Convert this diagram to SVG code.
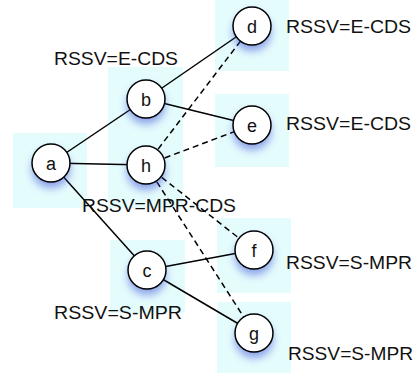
<svg xmlns="http://www.w3.org/2000/svg" width="419" height="373" viewBox="0 0 419 373">
<defs>
<filter id="sh" x="-50%" y="-50%" width="200%" height="220%">
<feGaussianBlur stdDeviation="4"/>
</filter>
</defs>
<style>
.bg{fill:#e5fcfd;stroke:none}
.sh{fill:#3b4fd8;opacity:0.55;filter:url(#sh)}
.nd{fill:#fff;stroke:#000;stroke-width:1.5}
.nl{font-family:"Liberation Sans",Arial,sans-serif;font-size:18px;fill:#111;text-anchor:middle}
.lb{font-family:"Liberation Sans",Arial,sans-serif;font-size:17.5px;fill:#111}
.e{stroke:#000;stroke-width:1.5;fill:none}
.d{stroke-dasharray:6 4}
</style>
<g id="backgrounds">
<rect class="bg" x="13" y="133" width="74" height="75"/>
<rect class="bg" x="108" y="67" width="75" height="75"/>
<rect class="bg" x="108" y="133" width="75" height="75"/>
<rect class="bg" x="110" y="240" width="75" height="73"/>
<rect class="bg" x="215" y="-4" width="74" height="75"/>
<rect class="bg" x="215" y="94" width="74" height="73"/>
<rect class="bg" x="217" y="218" width="74" height="75"/>
<rect class="bg" x="217" y="302" width="74" height="75"/>
</g>
<g id="connectors">
<line class="e" x1="51" y1="163" x2="146" y2="99"/>
<line class="e" x1="51" y1="163" x2="146" y2="165"/>
<line class="e" x1="51" y1="163" x2="147" y2="270"/>
<line class="e" x1="146" y1="99" x2="252" y2="26"/>
<line class="e" x1="146" y1="99" x2="252" y2="125"/>
<line class="e d" x1="146" y1="165" x2="252" y2="26"/>
<line class="e d" x1="146" y1="165" x2="252" y2="125"/>
<line class="e d" x1="146" y1="165" x2="254" y2="250"/>
<line class="e d" x1="146" y1="165" x2="254" y2="333"/>
<line class="e" x1="147" y1="270" x2="254" y2="250"/>
<line class="e" x1="147" y1="270" x2="254" y2="333"/>
</g>
<g id="node-a"><circle class="sh" cx="51" cy="169" r="19"/><circle class="nd" cx="51" cy="163" r="19"/><text class="nl" x="51" y="169.5">a</text></g>
<g id="node-b"><circle class="sh" cx="146" cy="105" r="19"/><circle class="nd" cx="146" cy="99" r="19"/><text class="nl" x="146" y="105.5">b</text></g>
<g id="node-h"><circle class="sh" cx="146" cy="171" r="19"/><circle class="nd" cx="146" cy="165" r="19"/><text class="nl" x="146" y="171.5">h</text></g>
<g id="node-c"><circle class="sh" cx="147" cy="276" r="19"/><circle class="nd" cx="147" cy="270" r="19"/><text class="nl" x="147" y="276.5">c</text></g>
<g id="node-d"><circle class="sh" cx="252" cy="32" r="19"/><circle class="nd" cx="252" cy="26" r="19"/><text class="nl" x="252" y="32.5">d</text></g>
<g id="node-e"><circle class="sh" cx="252" cy="131" r="19"/><circle class="nd" cx="252" cy="125" r="19"/><text class="nl" x="252" y="131.5">e</text></g>
<g id="node-f"><circle class="sh" cx="254" cy="256" r="19"/><circle class="nd" cx="254" cy="250" r="19"/><text class="nl" x="254" y="256.5">f</text></g>
<g id="node-g"><circle class="sh" cx="254" cy="339" r="19"/><circle class="nd" cx="254" cy="333" r="19"/><text class="nl" x="254" y="339.5">g</text></g>
<g id="labels">
<text class="lb" x="54" y="65" textLength="124" lengthAdjust="spacingAndGlyphs">RSSV=E-CDS</text>
<text class="lb" x="286" y="33" textLength="125" lengthAdjust="spacingAndGlyphs">RSSV=E-CDS</text>
<text class="lb" x="286" y="130" textLength="125" lengthAdjust="spacingAndGlyphs">RSSV=E-CDS</text>
<text class="lb" x="82" y="212" textLength="154" lengthAdjust="spacingAndGlyphs">RSSV=MPR-CDS</text>
<text class="lb" x="54" y="319" textLength="128" lengthAdjust="spacingAndGlyphs">RSSV=S-MPR</text>
<text class="lb" x="286" y="269" textLength="126" lengthAdjust="spacingAndGlyphs">RSSV=S-MPR</text>
<text class="lb" x="288" y="360" textLength="125" lengthAdjust="spacingAndGlyphs">RSSV=S-MPR</text>
</g>
</svg>
